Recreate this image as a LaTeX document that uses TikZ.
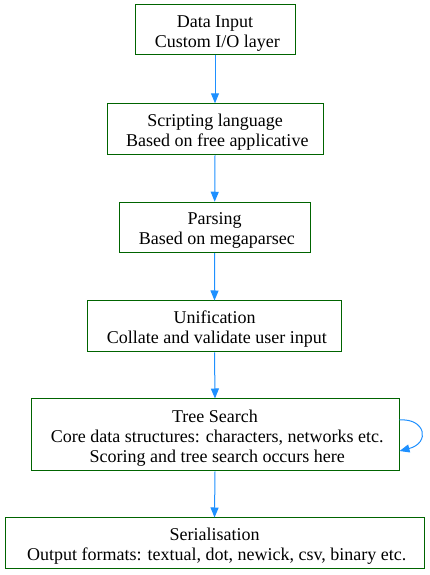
\documentclass[tikz,border=0pt]{standalone}
\usepackage{fontspec}
\setmainfont{Liberation Serif}
\usepackage{xcolor}
\usetikzlibrary{positioning,arrows.meta,calc}

\definecolor{boxgreen}{HTML}{006400}
\definecolor{flowblue}{HTML}{1E90FF}
\newcommand{\stagestrut}{\rule{0pt}{18pt}}

\begin{document}
\begin{tikzpicture}[x=1pt,y=1pt,
    stage/.style={draw=boxgreen, line width=1pt, align=center, inner sep=0pt,
        font=\rmfamily\fontsize{18}{20}\selectfont},
    flow/.style={flowblue, line width=1pt, -{Triangle[length=10pt,width=8pt]}}]
    \useasboundingbox (0,0) rectangle (429,575);

    % Pipeline stages (top to bottom)
    \node[stage, minimum width=160pt, minimum height=50pt] (din) at (215,545)
        {\stagestrut Data Input\\~Custom I/O layer};
    \node[stage, minimum width=216pt, minimum height=51pt] (script) at (215,445.7)
        {\stagestrut Scripting language\\~Based on free applicative};
    \node[stage, minimum width=191pt, minimum height=50.5pt] (parse) at (214.7,347.5)
        {\stagestrut Parsing\\~Based on megaparsec};
    \node[stage, minimum width=254pt, minimum height=51pt] (unify) at (214.5,248.5)
        {\stagestrut Unification\\~Collate and validate user input};
    \node[stage, minimum width=368pt, minimum height=72pt] (search) at (215,140)
        {\stagestrut Tree Search\\~Core data structures: characters, networks etc.\\~Scoring and tree search occurs here};
    \node[stage, minimum width=419pt, minimum height=51pt] (serial) at (214.5,31.5)
        {\stagestrut Serialisation\\~Output formats: textual, dot, newick, csv, binary etc.};

    % Straight flow between stages
    \foreach \a/\b in {din/script, script/parse, parse/unify, unify/search, search/serial} {
        \draw[flow] (\a.south) -- (\b.north);
    }

    % Self loop on the search stage
    \coordinate (loopout) at ($(search.east)+(0,15)$);
    \coordinate (loopin) at ($(search.east)+(0,-16)$);
    \draw[flow] (loopout) .. controls +(26,2) and +(31,8) .. (loopin);
\end{tikzpicture}
\end{document}
